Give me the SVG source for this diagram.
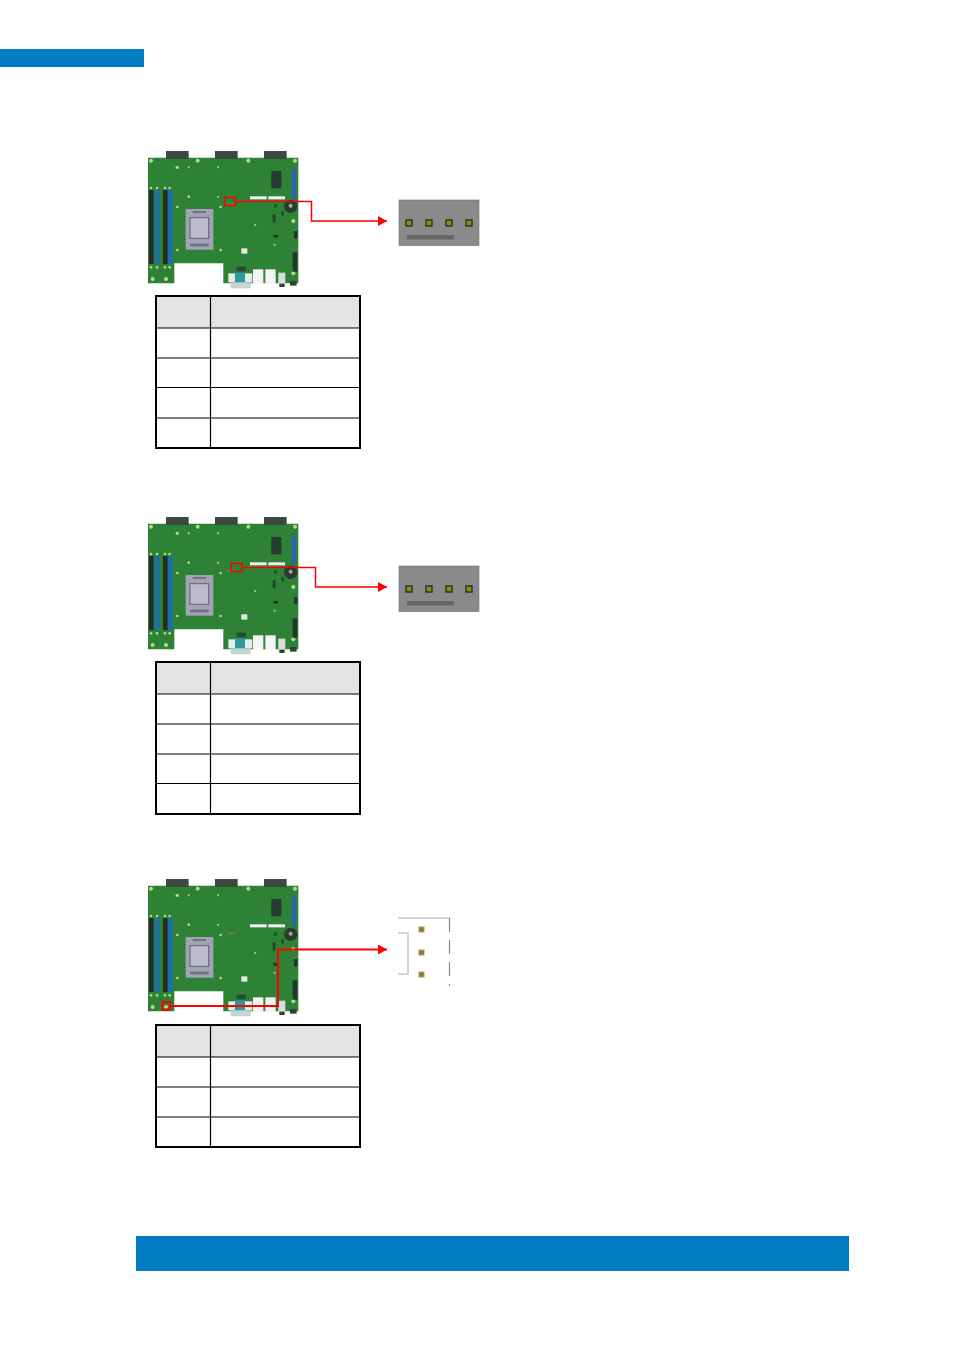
<svg xmlns="http://www.w3.org/2000/svg" xmlns:xlink="http://www.w3.org/1999/xlink" width="954" height="1350" viewBox="0 0 954 1350">
<style>
.band{fill:#007cc3}
.hd{fill:#e3e3e3}
.outer{fill:none;stroke:#000;stroke-width:2}
.inner{fill:none;stroke:#000;stroke-width:1.2}
.wire{fill:none;stroke:#f00;stroke-width:1.5}
.thick{stroke-width:2}
.conn{fill:#8a8a8a;stroke:#6e6e6e;stroke-width:.6}
.bar{fill:#666}
.pin{fill:#8f8a10;stroke:#2e2e26;stroke-width:1.400}
.wp{fill:#8a7440;stroke:#b89a50;stroke-width:1}
.gl{fill:none;stroke:#c8c8c8;stroke-width:1.500}
.gd{fill:none;stroke:#8a8a8a;stroke-width:1.200;stroke-dasharray:14 8}
.dot{fill:#b9d88c}
.blk{fill:#2c2c2c}
.blu{fill:#1f6fa8}
</style>
<defs>
<filter id="soft" x="-5%" y="-5%" width="110%" height="110%"><feGaussianBlur stdDeviation="2"/></filter>
<marker id="arrow" markerUnits="userSpaceOnUse" markerWidth="10" markerHeight="10" refX="9" refY="5" orient="auto"><path d="M0 0L9 5L0 10Z" fill="#f00"/></marker>
<g id="board" transform="translate(140 145) scale(.3333)" filter="url(#soft)">
<path d="M24 38H475V415H250V355H103V415H24Z" fill="#2d8236"/>
<rect x="78" y="18" width="68" height="24" fill="#3a4a40"/><rect x="225" y="18" width="68" height="24" fill="#3a4a40"/><rect x="372" y="18" width="68" height="24" fill="#3a4a40"/>
<rect x="27" y="135" width="14" height="222" class="blk"/><rect x="45" y="135" width="14" height="222" class="blu"/><rect x="69" y="135" width="14" height="222" class="blk"/><rect x="84" y="135" width="14" height="222" class="blu"/>
<g class="dot"><circle cx="33" cy="129" r="4"/><circle cx="51" cy="129" r="4"/><circle cx="75" cy="129" r="4"/><circle cx="89" cy="129" r="4"/><circle cx="33" cy="367" r="4"/><circle cx="51" cy="367" r="4"/><circle cx="75" cy="367" r="4"/><circle cx="89" cy="367" r="4"/><circle cx="33" cy="47" r="6"/><circle cx="173" cy="47" r="6"/><circle cx="325" cy="47" r="6"/><circle cx="465" cy="47" r="6"/><circle cx="112" cy="67" r="5"/><circle cx="146" cy="67" r="3"/><circle cx="234" cy="67" r="3"/><circle cx="146" cy="155" r="4"/><circle cx="234" cy="155" r="3"/><circle cx="112" cy="186" r="4"/><circle cx="242" cy="186" r="4"/><circle cx="112" cy="315" r="4"/><circle cx="242" cy="315" r="4"/><circle cx="346" cy="240" r="3"/><circle cx="404" cy="299" r="3"/><circle cx="460" cy="228" r="6"/><circle cx="460" cy="385" r="6"/><circle cx="38" cy="402" r="6"/><circle cx="78" cy="402" r="6"/></g>
<rect x="137" y="192" width="83" height="122" fill="#a3a3b4"/><rect x="150" y="218" width="56" height="62" fill="#bcbccb"/><path d="M150 218H206V280H150Z" fill="none" stroke="#70708a" stroke-width="4"/><rect x="150" y="296" width="56" height="8" fill="#70708a"/><rect x="158" y="198" width="40" height="6" fill="#70708a"/>
<rect x="262" y="176" width="24" height="7" fill="#5f7f5f"/>
<rect x="330" y="154" width="50" height="9" fill="#f2f2f2"/><rect x="385" y="154" width="50" height="9" fill="#f2f2f2"/>
<rect x="394" y="78" width="30" height="52" fill="#263a30"/>
<rect x="455" y="72" width="12" height="88" fill="#2f62b8"/>
<circle cx="452" cy="184" r="20" fill="#2c3a30"/><circle cx="452" cy="182" r="6" fill="#a8a890"/>
<rect x="398" y="208" width="9" height="24" fill="#1d4a28"/><rect x="400" y="270" width="14" height="8" fill="#1d3a28"/><rect x="402" y="178" width="8" height="10" fill="#1d4a28"/><rect x="424" y="198" width="7" height="14" fill="#1d4a28"/>
<rect x="458" y="322" width="14" height="58" fill="#24382c"/><rect x="462" y="258" width="10" height="22" fill="#24382c"/>
<rect x="304" y="310" width="18" height="16" fill="#e8ecd8"/>
<rect x="265" y="385" width="72" height="27" fill="#e4ecec"/><rect x="285" y="382" width="30" height="30" fill="#2a9a9a"/><rect x="272" y="412" width="60" height="18" fill="#c4d4d4"/><rect x="290" y="365" width="28" height="14" fill="#2c4a38"/>
<rect x="339" y="373" width="31" height="44" fill="#f4f4f4"/><rect x="376" y="373" width="31" height="44" fill="#f4f4f4"/><rect x="415" y="383" width="21" height="36" fill="#dcdcdc"/><rect x="418" y="416" width="16" height="10" fill="#33403a"/><rect x="450" y="408" width="20" height="14" fill="#33403a"/>
</g>
</defs>

<rect id="top-band" class="band" x="0" y="49" width="144" height="18"/>
<rect id="bottom-band" class="band" x="136" y="1236" width="713" height="35"/>

<g id="board-1"><use href="#board"/></g>
<g id="board-2"><use href="#board" y="366"/></g>
<g id="board-3"><use href="#board" y="728"/></g>

<g id="connector-1">
<rect class="conn" x="399" y="200" width="80" height="45.500"/><rect class="bar" x="407" y="235" width="47" height="4.500"/>
<rect class="pin" x="406" y="220" width="6" height="6"/><rect class="pin" x="426" y="220" width="6" height="6"/><rect class="pin" x="446" y="220" width="6" height="6"/><rect class="pin" x="466" y="220" width="6" height="6"/>
</g>
<g id="connector-2">
<rect class="conn" x="399" y="566" width="80" height="45.500"/><rect class="bar" x="407" y="601" width="47" height="4.500"/>
<rect class="pin" x="406" y="586" width="6" height="6"/><rect class="pin" x="426" y="586" width="6" height="6"/><rect class="pin" x="446" y="586" width="6" height="6"/><rect class="pin" x="466" y="586" width="6" height="6"/>
</g>
<g id="connector-3">
<path class="gl" d="M398 918H449.500M398 933H408V974H398"/><path class="gd" d="M449.500 918V986"/>
<rect class="wp" x="419" y="927" width="5" height="5"/><rect class="wp" x="419" y="950" width="5" height="5"/><rect class="wp" x="419" y="972" width="5" height="5"/>
</g>

<g id="table-1">
<rect class="hd" x="156" y="296" width="204" height="32"/>
<path class="inner" d="M156 328H360M156 358H360M156 387.500H360M156 418H360M210.500 296V448"/>
<rect class="outer" x="156" y="296" width="204" height="152"/>
</g>
<g id="table-2">
<rect class="hd" x="156" y="662" width="204" height="32"/>
<path class="inner" d="M156 694H360M156 724H360M156 754H360M156 783.500H360M210.500 662V814"/>
<rect class="outer" x="156" y="662" width="204" height="152"/>
</g>
<g id="table-3">
<rect class="hd" x="156" y="1025" width="204" height="32"/>
<path class="inner" d="M156 1057H360M156 1087H360M156 1117H360M210.500 1025V1147"/>
<rect class="outer" x="156" y="1025" width="204" height="122"/>
</g>

<g id="connectors">
<rect class="wire" x="224.500" y="197.500" width="11" height="8"/>
<path class="wire" d="M235.500 201.500H311.500V221H387" marker-end="url(#arrow)"/>
<rect class="wire" x="231" y="563.500" width="11" height="8"/>
<path class="wire" d="M242 567.500H315.500V587H387" marker-end="url(#arrow)"/>
<rect class="wire thick" x="162.500" y="1002" width="7.500" height="7.500"/>
<path class="wire thick" d="M170 1006H278V949.500H387" marker-end="url(#arrow)"/>
</g>
</svg>
